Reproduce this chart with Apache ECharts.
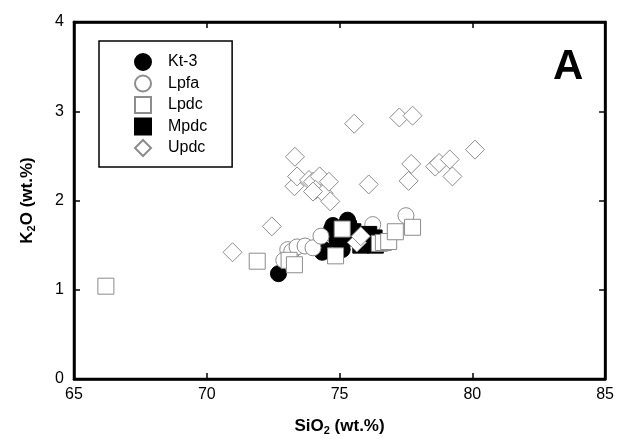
<!DOCTYPE html>
<html>
<head>
<meta charset="utf-8">
<script src="https://cdn.jsdelivr.net/npm/echarts@6/dist/echarts.min.js"></script>
<style>html,body{margin:0;padding:0;background:#fff;}#c{width:617px;height:445px;}</style>
</head>
<body>
<div id="c"></div>
<script>
const xTicks = [65, 70, 75, 80, 85];
const yTicks = [0, 1, 2, 3, 4];
const seriesNames = ['Kt-3', 'Lpfa', 'Lpdc', 'Mpdc', 'Updc'];
const kt3 = [[72.7,1.18],[74.35,1.42],[74.4,1.45],[74.7,1.68],[74.75,1.72],[75.3,1.78],[75.35,1.74],[75.1,1.45],[74.9,1.55],[75.6,1.62],[75.8,1.55],[76.0,1.6]];
const lpfa = [[72.9,1.33],[73.05,1.45],[73.2,1.43],[73.4,1.48],[73.7,1.49],[74.0,1.47],[74.3,1.6],[76.25,1.73],[77.5,1.83]];
const lpdc = [[66.2,1.04],[71.9,1.32],[73.1,1.33],[73.3,1.28],[74.85,1.38],[75.1,1.68],[76.5,1.52],[76.65,1.53],[76.85,1.54],[77.1,1.65],[77.75,1.70]];
const mpdc = [[75.0,1.63],[75.5,1.65],[75.3,1.58],[76.0,1.53],[76.2,1.52],[76.1,1.62],[75.8,1.5],[76.35,1.5],[76.3,1.58]];
const updc = [[70.97,1.42],[72.45,1.71],[73.32,2.49],[73.3,2.16],[73.4,2.27],[73.85,2.23],[74.0,2.21],[74.25,2.27],[74.1,2.12],[74.4,2.08],[74.6,2.21],[74.65,1.99],[74.0,2.10],[75.55,2.86],[76.1,2.18],[77.25,2.93],[77.75,2.95],[77.7,2.41],[77.6,2.22],[78.6,2.38],[78.75,2.42],[79.15,2.46],[79.25,2.27],[80.1,2.57],[75.65,1.53],[75.8,1.6]];

const chart = echarts.init(document.getElementById('c'), null, {renderer: 'canvas'});
const F = 'Liberation Sans, Arial, Helvetica, sans-serif';
const gray = '#8c8c8c';
const baseX = {type:'value', min:65, max:85, interval:5, splitLine:{show:false}};
const baseY = {type:'value', min:0, max:4, interval:1, splitLine:{show:false}};
const tick = {show:true, inside:true, length:6, lineStyle:{color:'#000', width:1.5}};
const line = {show:true, onZero:false, lineStyle:{color:'#000', width:2.5}};
chart.setOption({
  animation:false,
  backgroundColor:'#fff',
  grid:{left:74, right:10, top:22, bottom:66, show:true, borderColor:'#000', borderWidth:2.5, backgroundColor:'transparent'},
  xAxis:[
    Object.assign({}, baseX, {position:'bottom', axisLine:line, axisTick:tick,
      axisLabel:{color:'#000', fontSize:16, fontFamily:F, margin:8,
        formatter:(v)=> xTicks.includes(v) ? String(v) : ''},
      name:'SiO{s|2} (wt.%)', nameLocation:'middle', nameGap:38,
      nameTextStyle:{color:'#000', fontSize:17, fontWeight:'bold', fontFamily:F,
        rich:{s:{fontSize:11, fontWeight:'bold', fontFamily:F, verticalAlign:'bottom', padding:[8,0,0,0]}}}}),
    Object.assign({}, baseX, {position:'top', axisLine:line, axisTick:tick, axisLabel:{show:false}})
  ],
  yAxis:[
    Object.assign({}, baseY, {position:'left', axisLine:line, axisTick:tick,
      axisLabel:{color:'#000', fontSize:16, fontFamily:F, margin:10,
        formatter:(v)=> yTicks.includes(v) ? String(v) : ''},
      name:'K{s|2}O (wt.%)', nameLocation:'middle', nameGap:37, nameRotate:90,
      nameTextStyle:{color:'#000', fontSize:17, fontWeight:'bold', fontFamily:F,
        rich:{s:{fontSize:11, fontWeight:'bold', fontFamily:F, verticalAlign:'bottom', padding:[8,0,0,0]}}}}),
    Object.assign({}, baseY, {position:'right', axisLine:line, axisTick:tick, axisLabel:{show:false}})
  ],
  legend:{
    orient:'vertical', left:99, top:41,
    data:seriesNames,
    itemWidth:16, itemHeight:16, itemGap:3.5,
    padding:[12,25,10,35],
    borderColor:'#000', borderWidth:1.5,
    textStyle:{color:'#000', fontSize:16, fontFamily:F, padding:[0,0,0,12]},
    selectedMode:false
  },
  graphic:[{type:'text', left:553, top:46, style:{text:'A', font:'bold 42px '+F, fill:'#000'}}],
  series:[
    {name:'Kt-3', type:'scatter', data:kt3, symbol:'circle', symbolSize:16, z:2,
      itemStyle:{color:'#000', borderColor:'#000', borderWidth:1, opacity:1}},
    {name:'Lpfa', type:'scatter', data:lpfa, symbol:'circle', symbolSize:16, z:3,
      itemStyle:{color:'#fff', borderColor:gray, borderWidth:1, opacity:1}},
    {name:'Mpdc', type:'scatter', data:mpdc, symbol:'rect', symbolSize:16, z:4,
      itemStyle:{color:'#000', borderColor:'#000', borderWidth:1, opacity:1}},
    {name:'Lpdc', type:'scatter', data:lpdc, symbol:'rect', symbolSize:16, z:5,
      itemStyle:{color:'#fff', borderColor:gray, borderWidth:1, opacity:1}},
    {name:'Updc', type:'scatter', data:updc, symbol:'diamond', symbolSize:19, z:6,
      itemStyle:{color:'#fff', borderColor:gray, borderWidth:1, opacity:1}}
  ]
});
</script>
</body>
</html>
